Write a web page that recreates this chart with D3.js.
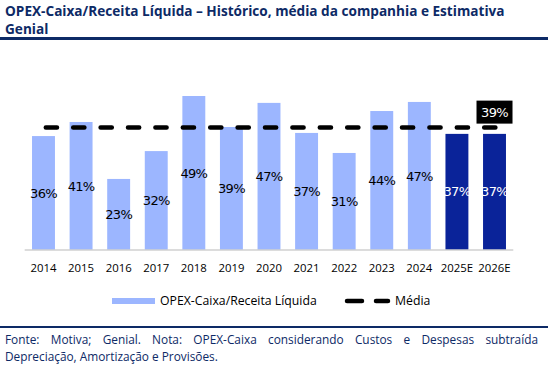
<!DOCTYPE html>
<html>
<head>
<meta charset="utf-8">
<script src="https://cdn.jsdelivr.net/npm/d3@7"></script>
<style>
  body { margin: 0; background: #fff; }
  svg { display: block; }
</style>
</head>
<body>
<svg id="chart"></svg>
<script>
// dados
const years = ['2014', '2015', '2016', '2017', '2018', '2019', '2020', '2021', '2022', '2023', '2024', '2025E', '2026E']
const opexRatio = [36.4, 40.9, 22.7, 31.6, 49.2, 39.3, 47.0, 37.4, 31.0, 44.4, 47.3, 37.1, 37.1]
const estimated = ['2025E', '2026E']
const media = 39.1

const width = 548
const height = 369
const navy = '#0d2a66'
const light = '#9cb6ff'
const dark = '#0a2399'
const font = '"Open Sans", Lato, sans-serif'

const svg = d3.select('#chart')
    .attr('width', width)
    .attr('height', height)
    .style('font-family', font)

// ajusta o tamanho da fonte para caber numa largura
const fitWidth = (sel, target) => {
    const fs = +sel.attr('font-size')
    const w = sel.node().getComputedTextLength()
    sel.attr('font-size', fs * target / w)
}

// título
const t1 = svg.append('text').attr('x', 5).attr('y', 16)
    .attr('fill', navy).attr('font-weight', 'bold').attr('font-size', 15)
    .text('OPEX-Caixa/Receita Líquida – Histórico, média da companhia e Estimativa')
fitWidth(t1, 500)
svg.append('text').attr('x', 5).attr('y', 33.5)
    .attr('fill', navy).attr('font-weight', 'bold').attr('font-size', t1.attr('font-size'))
    .text('Genial')

svg.append('rect').attr('x', 0).attr('y', 37).attr('width', width).attr('height', 3).attr('fill', navy)

// escalas
const x = d3.scaleBand()
    .domain(years)
    .range([24.7, 513.3])
    .paddingInner(0.39)
    .paddingOuter(0.195)

const y = d3.scaleLinear()
    .domain([0, 50])
    .range([250, 93.5])

// barras
svg.append('g')
    .selectAll('rect')
    .data(years)
    .join('rect')
    .attr('x', (d) => x(d))
    .attr('width', x.bandwidth())
    .attr('y', (d, i) => y(opexRatio[i]))
    .attr('height', (d, i) => y(0) - y(opexRatio[i]))
    .attr('fill', (d) => estimated.includes(d) ? dark : light)

// rótulos das barras
svg.append('g')
    .selectAll('text')
    .data(years)
    .join('text')
    .attr('x', (d) => x(d) + x.bandwidth() / 2)
    .attr('y', (d, i) => (y(opexRatio[i]) + y(0)) / 2)
    .attr('dy', '0.35em')
    .attr('text-anchor', 'middle')
    .attr('font-family', 'Verdana, "DejaVu Sans", sans-serif')
    .attr('font-size', 13)
    .attr('letter-spacing', -0.7)
    .attr('fill', (d) => estimated.includes(d) ? '#fff' : '#000')
    .text((d, i) => d3.format('.0f')(opexRatio[i]) + '%')

// eixo x
const xAxis = svg.append('g')
    .attr('transform', `translate(0,${y(0)})`)
    .call(d3.axisBottom(x).tickSize(0).tickPadding(14))
xAxis.select('.domain').attr('stroke', '#d0d0d0').attr('stroke-width', 1.5)
    .attr('d', `M24.7,0H513.3`)
const tickFs = (() => {
    const s = xAxis.select('text').attr('font-size', 12).attr('font-family', font)
    const w = s.node().getComputedTextLength()
    return 12 * 26 / w
})()
xAxis.selectAll('text')
    .attr('font-family', font)
    .attr('font-size', tickFs)
    .attr('fill', '#000')

// linha da média
const first = years[0], last = years[years.length - 1]
svg.append('line')
    .attr('x1', x(first) + x.bandwidth() / 2)
    .attr('x2', x(last) + x.bandwidth() / 2)
    .attr('y1', y(media))
    .attr('y2', y(media))
    .attr('stroke', '#000')
    .attr('stroke-width', 4.5)
    .attr('stroke-linecap', 'round')
    .attr('stroke-dasharray', '11.2,16.2')
    .attr('transform', 'translate(2.3,0)')

// rótulo da média
const mx = x(last) + x.bandwidth() / 2
svg.append('rect')
    .attr('x', mx - 18).attr('y', y(media) - 27)
    .attr('width', 36).attr('height', 23)
    .attr('fill', '#000')
svg.append('text')
    .attr('x', mx).attr('y', y(media) - 15.5)
    .attr('dy', '0.35em')
    .attr('text-anchor', 'middle')
    .attr('font-family', 'Verdana, "DejaVu Sans", sans-serif')
    .attr('font-size', 13)
    .attr('letter-spacing', -0.7)
    .attr('fill', '#fff')
    .text(d3.format('.0f')(media) + '%')

// legenda
const legend = svg.append('g')
legend.append('rect').attr('x', 112).attr('y', 298).attr('width', 43).attr('height', 6).attr('fill', light)
const l1 = legend.append('text').attr('x', 160).attr('y', 301).attr('dy', '0.35em')
    .attr('font-size', 12).text('OPEX-Caixa/Receita Líquida')
fitWidth(l1, 157)
legend.append('line')
    .attr('x1', 347).attr('x2', 388).attr('y1', 301).attr('y2', 301)
    .attr('stroke', '#000').attr('stroke-width', 4.5)
    .attr('stroke-linecap', 'round')
    .attr('stroke-dasharray', '15,14')
legend.append('text').attr('x', 395).attr('y', 301).attr('dy', '0.35em')
    .attr('font-size', l1.attr('font-size')).text('Média')

// rodapé
svg.append('rect').attr('x', 0).attr('y', 326).attr('width', width).attr('height', 2).attr('fill', navy)
const foot = svg.append('g').attr('fill', navy)
const f2 = foot.append('text').attr('x', 5).attr('y', 361).attr('font-size', 12)
    .text('Depreciação, Amortização e Provisões.')
fitWidth(f2, 213)
const footFs = +f2.attr('font-size')

// primeira linha justificada palavra a palavra
const words = 'Fonte: Motiva; Genial. Nota: OPEX-Caixa considerando Custos e Despesas subtraída'.split(' ')
const wordNodes = words.map((w) => foot.append('text').attr('y', 344).attr('font-size', footFs).text(w))
const total = d3.sum(wordNodes, (n) => n.node().getComputedTextLength())
const gap = (538 - 5 - total) / (words.length - 1)
let cx = 5
wordNodes.forEach((n) => {
    n.attr('x', cx)
    cx += n.node().getComputedTextLength() + gap
})
</script>
</body>
</html>
